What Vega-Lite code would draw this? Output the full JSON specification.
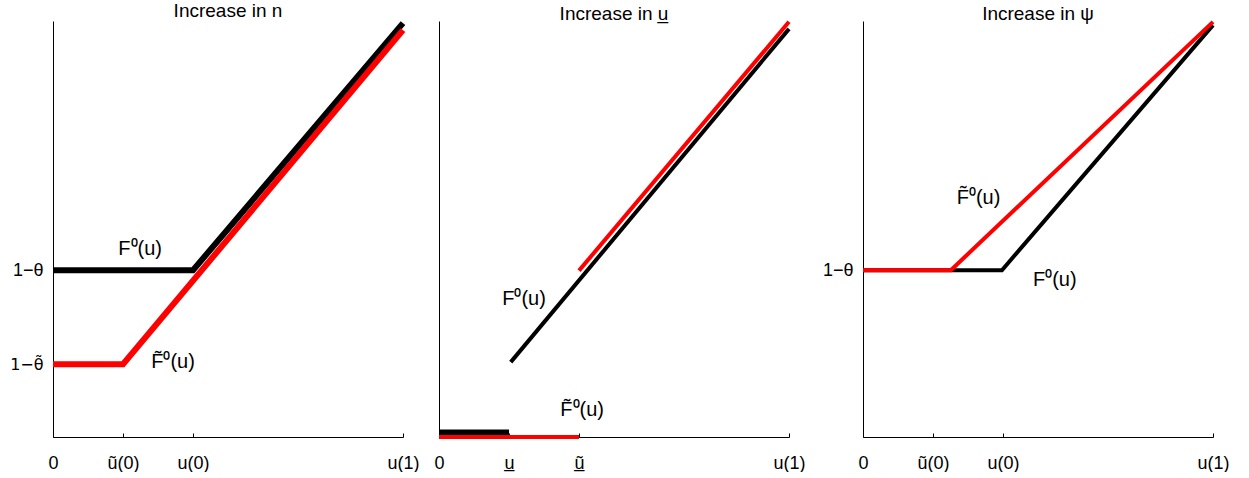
{
  "$schema": "https://vega.github.io/schema/vega-lite/v6.json",
  "padding": {"left": 9, "top": 2, "right": 5, "bottom": 0},
  "spacing": 16,
  "config": {
    "view": {"stroke": null},
    "font": "Liberation Sans",
    "axis": {"grid": false, "domainColor": "black", "tickColor": "black", "labelColor": "black", "labelFont": "Liberation Sans", "labelFontSize": 18, "title": null, "labelFlush": false, "labelOverlap": false, "domainWidth": 1},
    "title": {"font": "Liberation Sans", "fontSize": 19, "fontWeight": "normal", "color": "black", "offset": -10}
  },
  "datasets": {
    "lines": [
      {"p": 1, "s": "F", "seg": "a", "x": 0, "y": 0.401},
      {"p": 1, "s": "F", "seg": "a", "x": 0.4, "y": 0.401},
      {"p": 1, "s": "F", "seg": "a", "x": 1, "y": 0.995},
      {"p": 1, "s": "Ft", "seg": "a", "x": 0, "y": 0.175},
      {"p": 1, "s": "Ft", "seg": "a", "x": 0.2, "y": 0.175},
      {"p": 1, "s": "Ft", "seg": "a", "x": 1, "y": 0.978},
      {"p": 2, "s": "Fh", "seg": "h", "x": 0, "y": 0.011},
      {"p": 2, "s": "Fh", "seg": "h", "x": 0.2, "y": 0.011},
      {"p": 2, "s": "F", "seg": "d", "x": 0.205, "y": 0.18},
      {"p": 2, "s": "F", "seg": "d", "x": 1, "y": 0.981},
      {"p": 2, "s": "Ft", "seg": "h", "x": 0, "y": 0},
      {"p": 2, "s": "Ft", "seg": "h", "x": 0.4, "y": 0},
      {"p": 2, "s": "Ft", "seg": "d", "x": 0.4, "y": 0.4},
      {"p": 2, "s": "Ft", "seg": "d", "x": 1, "y": 0.998},
      {"p": 3, "s": "F", "seg": "a", "x": 0, "y": 0.401},
      {"p": 3, "s": "F", "seg": "a", "x": 0.397, "y": 0.401},
      {"p": 3, "s": "F", "seg": "a", "x": 1, "y": 0.99},
      {"p": 3, "s": "Ft", "seg": "a", "x": 0, "y": 0.401},
      {"p": 3, "s": "Ft", "seg": "a", "x": 0.251, "y": 0.401},
      {"p": 3, "s": "Ft", "seg": "a", "x": 1, "y": 0.998}
    ],
    "labels": [
      {"p": 1, "x": 0.249, "y": 0.452, "t": "F⁰(u)"},
      {"p": 1, "x": 0.343, "y": 0.18, "t": "F̃⁰(u)"},
      {"p": 2, "x": 0.243, "y": 0.332, "t": "F⁰(u)"},
      {"p": 2, "x": 0.409, "y": 0.065, "t": "F̃⁰(u)"},
      {"p": 3, "x": 0.33, "y": 0.575, "t": "F̃⁰(u)"},
      {"p": 3, "x": 0.548, "y": 0.377, "t": "F⁰(u)"}
    ]
  },
  "hconcat": [
    {
      "spacing": 7,
      "hconcat": [
        {
          "width": 350, "height": 416,
          "title": "Increase in n",
          "layer": [
            {
              "data": {"name": "lines"},
              "transform": [{"filter": "datum.p == 1 && datum.s == 'F'"}],
              "mark": {"type": "line", "color": "black", "strokeWidth": 6},
              "encoding": {
                "x": {"field": "x", "type": "quantitative", "scale": {"domain": [0, 1], "nice": false},
                  "axis": {"values": [0, 0.2, 0.4, 1], "labelExpr": "datum.value == 0 ? '0' : datum.value == 0.2 ? 'ũ(0)' : datum.value == 0.4 ? 'u(0)' : 'u(1)'", "tickSize": -4, "labelPadding": 21}},
                "y": {"field": "y", "type": "quantitative", "scale": {"domain": [0, 1], "nice": false},
                  "axis": {"values": [0.175, 0.401], "labelExpr": "datum.value < 0.3 ? '1−θ̃' : '1−θ'", "labelFont": {"condition": {"test": "datum.value < 0.3", "value": "DejaVu Sans"}, "value": "Liberation Sans"}, "labelFontSize": {"condition": {"test": "datum.value < 0.3", "value": 16}, "value": 18}, "ticks": false, "labelPadding": 10}},
                "detail": {"field": "seg"}
              }
            },
            {
              "data": {"name": "lines"},
              "transform": [{"filter": "datum.p == 1 && datum.s == 'Ft'"}],
              "mark": {"type": "line", "color": "#ff0000", "strokeWidth": 6},
              "encoding": {
                "x": {"field": "x", "type": "quantitative"},
                "y": {"field": "y", "type": "quantitative"},
                "detail": {"field": "seg"}
              }
            },
            {
              "data": {"name": "labels"},
              "transform": [{"filter": "datum.p == 1"}],
              "mark": {"type": "text", "fontSize": 20, "font": "Liberation Sans", "color": "black"},
              "encoding": {
                "x": {"field": "x", "type": "quantitative"},
                "y": {"field": "y", "type": "quantitative"},
                "text": {"field": "t"}
              }
            }
          ]
        },
        {
          "width": 350, "height": 416,
          "title": "Increase in u̲",
          "layer": [
            {
              "data": {"name": "lines"},
              "transform": [{"filter": "datum.p == 2 && datum.s == 'Fh'"}],
              "mark": {"type": "line", "color": "black", "strokeWidth": 6},
              "encoding": {
                "x": {"field": "x", "type": "quantitative", "scale": {"domain": [0, 1], "nice": false},
                  "axis": {"values": [0, 0.2, 0.4, 1], "labelExpr": "datum.value == 0 ? '0' : datum.value == 0.2 ? 'u̲' : datum.value == 0.4 ? 'ũ̲' : 'u(1)'", "tickSize": -4, "labelPadding": 21}},
                "y": {"field": "y", "type": "quantitative", "scale": {"domain": [0, 1], "nice": false},
                  "axis": {"values": [], "labels": false, "ticks": false}},
                "detail": {"field": "seg"}
              }
            },
            {
              "data": {"name": "lines"},
              "transform": [{"filter": "datum.p == 2 && datum.s == 'F'"}],
              "mark": {"type": "line", "color": "black", "strokeWidth": 4},
              "encoding": {
                "x": {"field": "x", "type": "quantitative"},
                "y": {"field": "y", "type": "quantitative"},
                "detail": {"field": "seg"}
              }
            },
            {
              "data": {"name": "lines"},
              "transform": [{"filter": "datum.p == 2 && datum.s == 'Ft'"}],
              "mark": {"type": "line", "color": "#ff0000", "strokeWidth": 4},
              "encoding": {
                "x": {"field": "x", "type": "quantitative"},
                "y": {"field": "y", "type": "quantitative"},
                "detail": {"field": "seg"}
              }
            },
            {
              "data": {"name": "labels"},
              "transform": [{"filter": "datum.p == 2"}],
              "mark": {"type": "text", "fontSize": 20, "font": "Liberation Sans", "color": "black"},
              "encoding": {
                "x": {"field": "x", "type": "quantitative"},
                "y": {"field": "y", "type": "quantitative"},
                "text": {"field": "t"}
              }
            }
          ]
        }
      ]
    },
    {
      "width": 350, "height": 416,
      "title": "Increase in ψ",
      "layer": [
        {
          "data": {"name": "lines"},
          "transform": [{"filter": "datum.p == 3 && datum.s == 'F'"}],
          "mark": {"type": "line", "color": "black", "strokeWidth": 4},
          "encoding": {
            "x": {"field": "x", "type": "quantitative", "scale": {"domain": [0, 1], "nice": false},
              "axis": {"values": [0, 0.2, 0.4, 1], "labelExpr": "datum.value == 0 ? '0' : datum.value == 0.2 ? 'ũ(0)' : datum.value == 0.4 ? 'u(0)' : 'u(1)'", "tickSize": -4, "labelPadding": 21}},
            "y": {"field": "y", "type": "quantitative", "scale": {"domain": [0, 1], "nice": false},
              "axis": {"values": [0.401], "labelExpr": "'1−θ'", "ticks": false, "labelPadding": 10}},
            "detail": {"field": "seg"}
          }
        },
        {
          "data": {"name": "lines"},
          "transform": [{"filter": "datum.p == 3 && datum.s == 'Ft'"}],
          "mark": {"type": "line", "color": "#ff0000", "strokeWidth": 4},
          "encoding": {
            "x": {"field": "x", "type": "quantitative"},
            "y": {"field": "y", "type": "quantitative"},
            "detail": {"field": "seg"}
          }
        },
        {
          "data": {"name": "labels"},
          "transform": [{"filter": "datum.p == 3"}],
          "mark": {"type": "text", "fontSize": 20, "font": "Liberation Sans", "color": "black"},
          "encoding": {
            "x": {"field": "x", "type": "quantitative"},
            "y": {"field": "y", "type": "quantitative"},
            "text": {"field": "t"}
          }
        }
      ]
    }
  ]
}
